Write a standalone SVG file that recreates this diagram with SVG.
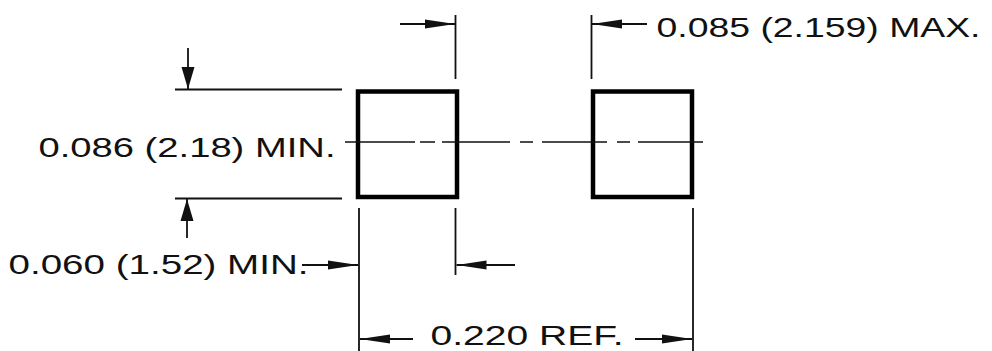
<svg xmlns="http://www.w3.org/2000/svg" width="992" height="351" viewBox="0 0 992 351">
  <style>
    .pad { fill: none; stroke: #000; stroke-width: 4.5; }
    .thin { fill: none; stroke: #111; stroke-width: 1.8; }
    .center { fill: none; stroke: #111; stroke-width: 1.6; }
    .lbl { font-family: "Liberation Sans", Arial, sans-serif; font-size: 27px; fill: #111; }
    .dimh { fill: none; stroke: #111; stroke-width: 1.8; marker-end: url(#ah); }
    .dimv { fill: none; stroke: #111; stroke-width: 1.8; marker-end: url(#av); }
  </style>
  <defs>
    <marker id="ah" viewBox="0 0 30 10" refX="30" refY="5" markerWidth="30" markerHeight="10" markerUnits="userSpaceOnUse" orient="auto">
      <path d="M0,0.5 L30,5 L0,9.5 Z" fill="#111"/>
    </marker>
    <marker id="av" viewBox="0 0 22 14" refX="22" refY="7" markerWidth="22" markerHeight="14" markerUnits="userSpaceOnUse" orient="auto">
      <path d="M0,0.5 L22,7 L0,13.5 Z" fill="#111"/>
    </marker>
  </defs>

  <g id="left-pad">
    <rect class="pad" x="358" y="91.5" width="99" height="105.5"/>
  </g>
  <g id="right-pad">
    <rect class="pad" x="593" y="91.5" width="99" height="105.5"/>
  </g>

  <g id="connectors">
    <!-- centre line -->
    <path class="center" d="M345,142 H415 M420,142 H435 M442,142 H510 M520,142 H533 M542,142 H607 M617,142 H630 M638,142 H703"/>
    <!-- extension lines -->
    <path class="thin" d="M455.5,15 V79 M591.5,15 V79"/>
    <path class="thin" d="M175,89.5 H342 M175,198.5 H342"/>
    <path class="thin" d="M359,208 V351 M455.5,208 V275 M693,208 V351"/>
    <!-- dimension arrows -->
    <path class="dimh" d="M400,24 H455"/>
    <path class="dimh" d="M647,24 H592"/>
    <path class="dimv" d="M188,48 V89"/>
    <path class="dimv" d="M187,238 V199"/>
    <path class="dimh" d="M302,265 H358"/>
    <path class="dimh" d="M515,265 H456.5"/>
    <path class="dimh" d="M413,339 H360"/>
    <path class="dimh" d="M635,339 H692"/>
  </g>

  <g id="label-085">
    <text class="lbl" x="656.5" y="37" textLength="324" lengthAdjust="spacingAndGlyphs">0.085 (2.159) MAX.</text>
  </g>
  <g id="label-086">
    <text class="lbl" x="38.5" y="157" textLength="297" lengthAdjust="spacingAndGlyphs">0.086 (2.18) MIN.</text>
  </g>
  <g id="label-060">
    <text class="lbl" x="8.5" y="274" textLength="300" lengthAdjust="spacingAndGlyphs">0.060 (1.52) MIN.</text>
  </g>
  <g id="label-220">
    <text class="lbl" x="430.5" y="345" textLength="193" lengthAdjust="spacingAndGlyphs">0.220 REF.</text>
  </g>
</svg>
